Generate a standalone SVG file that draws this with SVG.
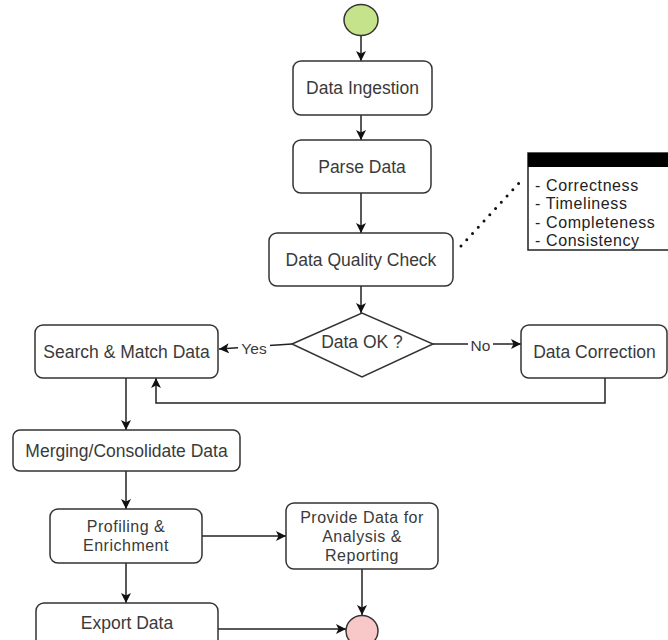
<svg xmlns="http://www.w3.org/2000/svg" width="668" height="640" viewBox="0 0 668 640">
  <style>
    .box { fill: #ffffff; stroke: #333333; stroke-width: 1.5; }
    .lbl { font-family: "Liberation Sans", Arial, sans-serif; font-size: 17.5px; fill: #3a3a3a; text-anchor: middle; dominant-baseline: central; }
    .multi { font-size: 16px; letter-spacing: 0.5px; }
    .edge { fill: none; stroke: #222222; stroke-width: 1.5; }
    .elbl { font-family: "Liberation Sans", Arial, sans-serif; font-size: 15.5px; fill: #3a3a3a; text-anchor: middle; dominant-baseline: central; }
    .note { font-family: "Liberation Sans", Arial, sans-serif; font-size: 16px; letter-spacing: 0.6px; fill: #222222; }
  </style>
  <defs>
    <marker id="arrow" viewBox="0 0 10 10" refX="10" refY="5" markerWidth="10" markerHeight="10" markerUnits="userSpaceOnUse" orient="auto">
      <path d="M0,0 L10,5 L0,10 L2.5,5 Z" fill="#111111"/>
    </marker>
  </defs>
  <rect width="668" height="640" fill="#ffffff"/>

  <!-- connectors -->
  <g id="connectors">
    <line class="edge" x1="361" y1="35" x2="361" y2="61" marker-end="url(#arrow)"/>
    <line class="edge" x1="361" y1="115" x2="361" y2="140" marker-end="url(#arrow)"/>
    <line class="edge" x1="361" y1="193" x2="361" y2="233" marker-end="url(#arrow)"/>
    <line class="edge" x1="361" y1="286" x2="361" y2="313" marker-end="url(#arrow)"/>
    <line class="edge" x1="292" y1="344" x2="219" y2="349" marker-end="url(#arrow)"/>
    <line class="edge" x1="433" y1="344" x2="521" y2="344" marker-end="url(#arrow)"/>
    <polyline class="edge" points="605,378 605,403 156,403 156,378" marker-end="url(#arrow)"/>
    <line class="edge" x1="126" y1="378" x2="126" y2="430" marker-end="url(#arrow)"/>
    <line class="edge" x1="126" y1="471" x2="126" y2="509" marker-end="url(#arrow)"/>
    <line class="edge" x1="202" y1="536" x2="286" y2="536" marker-end="url(#arrow)"/>
    <line class="edge" x1="126" y1="563" x2="126" y2="603" marker-end="url(#arrow)"/>
    <line class="edge" x1="362" y1="569" x2="362" y2="615" marker-end="url(#arrow)"/>
    <line class="edge" x1="218" y1="629" x2="346" y2="629" marker-end="url(#arrow)"/>
    <line x1="461" y1="246" x2="519" y2="183" stroke="#111111" stroke-width="3" stroke-linecap="round" stroke-dasharray="0 8.5"/>
    <rect x="238" y="339" width="32" height="18" fill="#ffffff"/>
    <text class="elbl" x="254" y="348">Yes</text>
    <rect x="468" y="336" width="25" height="18" fill="#ffffff"/>
    <text class="elbl" x="480.5" y="345">No</text>
  </g>

  <g id="start">
    <ellipse cx="361" cy="20" rx="17" ry="15.5" fill="#c5e38a" stroke="#333333" stroke-width="1.5"/>
  </g>
  <g id="ingestion">
    <rect class="box" x="293" y="61" width="139" height="54" rx="8"/>
    <text class="lbl" x="362.5" y="88">Data Ingestion</text>
  </g>
  <g id="parse">
    <rect class="box" x="293" y="140" width="138" height="53" rx="8"/>
    <text class="lbl" x="362" y="167">Parse Data</text>
  </g>
  <g id="quality">
    <rect class="box" x="269" y="233" width="184" height="53" rx="8"/>
    <text class="lbl" x="361" y="260">Data Quality Check</text>
  </g>
  <g id="decision">
    <polygon class="box" points="292,344 362,313 433,344 362,377"/>
    <text class="lbl" x="362" y="342">Data OK ?</text>
  </g>
  <g id="search">
    <rect class="box" x="35" y="325" width="183" height="53" rx="8"/>
    <text class="lbl" x="126.5" y="352">Search &amp; Match Data</text>
  </g>
  <g id="correction">
    <rect class="box" x="521" y="325" width="146" height="53" rx="8"/>
    <text class="lbl" x="594.5" y="352">Data Correction</text>
  </g>
  <g id="merge">
    <rect class="box" x="13" y="430" width="227" height="41" rx="7"/>
    <text class="lbl" x="126.5" y="450.5">Merging/Consolidate Data</text>
  </g>
  <g id="profiling">
    <rect class="box" x="50" y="509" width="152" height="54" rx="8"/>
    <text class="lbl multi" x="126" y="526.5">Profiling &amp;</text>
    <text class="lbl multi" x="126" y="545.5">Enrichment</text>
  </g>
  <g id="provide">
    <rect class="box" x="286" y="503" width="152" height="66" rx="8"/>
    <text class="lbl multi" x="362" y="517">Provide Data for</text>
    <text class="lbl multi" x="362" y="536">Analysis &amp;</text>
    <text class="lbl multi" x="362" y="555">Reporting</text>
  </g>
  <g id="export">
    <rect class="box" x="36" y="603" width="182" height="48" rx="8"/>
    <text class="lbl" x="127" y="623">Export Data</text>
  </g>
  <g id="end">
    <ellipse cx="362" cy="631" rx="16" ry="15.5" fill="#f8c8c8" stroke="#333333" stroke-width="1.5"/>
  </g>
  <g id="legend">
    <rect x="528" y="153" width="145" height="97" fill="#ffffff" stroke="#222222" stroke-width="1.5"/>
    <rect x="528" y="153" width="145" height="14" fill="#000000"/>
    <text class="note" x="535" y="190.5">- Correctness</text>
    <text class="note" x="535" y="209">- Timeliness</text>
    <text class="note" x="535" y="227.5">- Completeness</text>
    <text class="note" x="535" y="246">- Consistency</text>
  </g>
</svg>
